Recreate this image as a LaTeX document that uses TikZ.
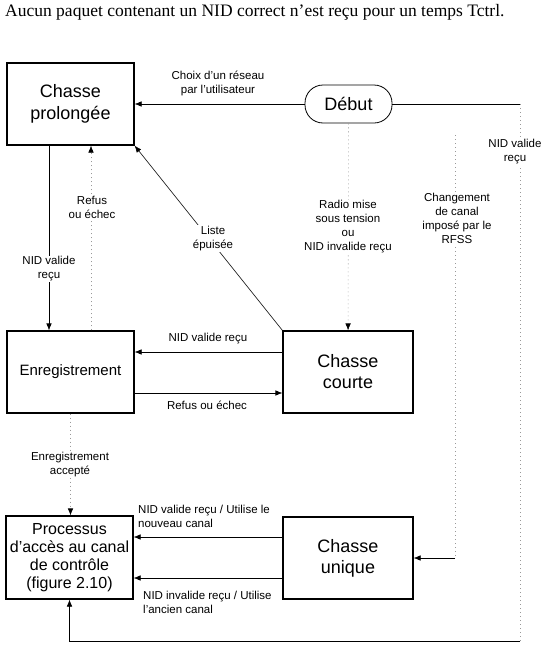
\documentclass[tikz,border=0pt]{standalone}
\usepackage{fontspec}
\setmainfont{Liberation Sans}
\newfontfamily\seriffont{Liberation Serif}
\usetikzlibrary{arrows.meta}
\begin{document}
\begin{tikzpicture}[x=1pt,y=-1pt,
 box/.style={draw, line width=1.1pt, inner sep=0pt, align=center},
 lbl/.style={font=\fontsize{11.5}{14}\selectfont, align=center, inner sep=1pt},
 wl/.style={lbl, fill=white},
 conn/.style={line width=0.6pt},
 arr/.style={conn, -{Latex[length=7pt,width=5.5pt]}},
 dots/.style={line width=0.6pt, gray!80, dash pattern=on 1pt off 3pt},
 dotarr/.style={dots, -{Latex[length=7pt,width=5.5pt,color=black]}},
]
\useasboundingbox (0,0) rectangle (545,656);
\clip (0,0) rectangle (545,656);

\node[inner sep=0pt, anchor=base west, font=\seriffont\fontsize{17.5}{20}\selectfont] (hdr) at (5,16) {Aucun paquet contenant un NID correct n’est reçu pour un temps Tctrl.};

\node[box, minimum width=127pt, minimum height=82pt, font=\fontsize{18}{22}\selectfont] (cp) at (70.5,104) {Chasse\\prolongée};
\node[box, rounded corners=18pt, line width=0.8pt, minimum width=87pt, minimum height=38pt, font=\fontsize{18}{22}\selectfont] (deb) at (348.5,104) {Début};
\node[box, minimum width=127pt, minimum height=82pt, font=\fontsize{15}{18}\selectfont] (en) at (70.5,372) {Enregistrement};
\node[box, minimum width=130pt, minimum height=82pt, font=\fontsize{18}{21}\selectfont] (cc) at (348,372) {Chasse\\courte};
\node[box, minimum width=127pt, minimum height=83pt, font=\fontsize{16}{18.2}\selectfont] (pa) at (69.5,557.5) {Processus\\d’accès au canal\\de contrôle\\(figure 2.10)};
\node[box, minimum width=130pt, minimum height=82pt, font=\fontsize{18}{21}\selectfont] (cu) at (348,558) {Chasse\\unique};

\coordinate (tr) at (520,104);
\coordinate (br) at (520,641);
\coordinate (bl) at (69.5,641);
\coordinate (c1) at (455,135);
\coordinate (c2) at (455,558);

\draw[arr] (deb) -- (cp);
\draw[conn] (deb) -- (tr);
\draw[dots] (tr) -- (br);
\draw[arr] (br) -- (bl) -- (pa);
\draw[dotarr] (deb) -- (cc);
\draw[arr] (cc.north west) -- (cp.south east);
\draw[arr] ([yshift=20pt]cc.west) -- ([yshift=20pt]en.east);
\draw[arr] ([yshift=-21pt]en.east) -- ([yshift=-21pt]cc.west);
\draw[arr] ([xshift=-21.5pt]cp.south) -- ([xshift=-21.5pt]en.north);
\draw[dotarr] ([xshift=20.5pt]en.north) -- ([xshift=20.5pt]cp.south);
\draw[dotarr] (en.south) -- (en.south |- pa.north);
\draw[arr] ([yshift=21pt]cu.west) -- ([yshift=21pt]cu.west -| pa.east);
\draw[arr] ([yshift=-20pt]cu.west) -- ([yshift=-20pt]cu.west -| pa.east);
\draw[dots] (c1) -- (c2);
\draw[arr] (c2) -- (cu);

\node[lbl] (l1) at (218,83) {Choix d’un réseau\\par l’utilisateur};
\node[lbl] (l2) at (208,339) {NID valide reçu};
\node[lbl] (l3) at (207,405) {Refus ou échec};
\node[wl] (l4) at (213,238.5) {Liste\\épuisée};
\node[wl] (l5) at (92,207) {Refus\\ou échec};
\node[wl] (l6) at (49,269) {NID valide\\reçu};
\node[wl] (l7) at (70,465) {Enregistrement\\accepté};
\node[wl] (l8) at (348,227) {Radio mise\\sous tension\\ou\\NID invalide reçu};
\node[wl] (l9) at (457,218) {Changement\\de canal\\imposé par le\\RFSS};
\node[wl, inner sep=0.5pt] (l10) at (515,152) {NID valide\\reçu};
\node[lbl, align=left, anchor=west] (l11) at (137,516.5) {NID valide reçu / Utilise le\\nouveau canal};
\node[lbl, align=left, anchor=west] (l12) at (142,602.5) {NID invalide reçu / Utilise\\l’ancien canal};
\end{tikzpicture}
\end{document}
